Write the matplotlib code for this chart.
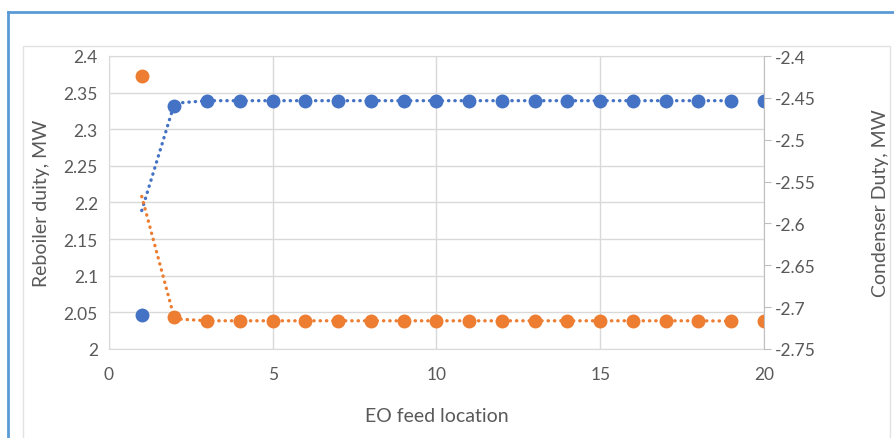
import matplotlib.pyplot as plt
from matplotlib.lines import Line2D
from matplotlib.patches import Rectangle

plt.rcParams['font.family'] = ['Lato', 'DejaVu Sans']

# EO feed stage vs. reboiler / condenser duty
feed_location = [1, 2, 3, 4, 5, 6, 7, 8, 9, 10, 11, 12, 13, 14, 15, 16, 17, 18, 19, 20]
reboiler_duty = [2.046, 2.332, 2.339, 2.339, 2.339, 2.339, 2.339, 2.339, 2.339, 2.339,
                 2.339, 2.339, 2.339, 2.339, 2.339, 2.339, 2.339, 2.339, 2.339, 2.339]
condenser_duty = [-2.424, -2.7115, -2.7163, -2.7163, -2.7163, -2.7163, -2.7163, -2.7163,
                  -2.7163, -2.7163, -2.7163, -2.7163, -2.7163, -2.7163, -2.7163, -2.7163,
                  -2.7163, -2.7163, -2.7163, -2.717]

left_ticks = [2, 2.05, 2.1, 2.15, 2.2, 2.25, 2.3, 2.35, 2.4]
right_ticks = [-2.75, -2.7, -2.65, -2.6, -2.55, -2.5, -2.45, -2.4]
x_ticks = [0, 5, 10, 15, 20]

blue = '#4472C4'
orange = '#ED7D31'
text_grey = '#595959'
grid_grey = '#D9D9D9'


def moving_avg(vals):
    # two-point moving average, as the dotted trend line
    return [(a + b) / 2 for a, b in zip(vals[:-1], vals[1:])]


fig = plt.figure(figsize=(8.95, 4.39), dpi=100)

# outer frame and chart-area border
fig.add_artist(Line2D([8 / 895, 8 / 895], [0, 1 - 13 / 439], color='#5B9BD5', lw=2,
                      transform=fig.transFigure))
fig.add_artist(Line2D([8 / 895, 1], [1 - 13 / 439, 1 - 13 / 439], color='#5B9BD5', lw=2,
                      transform=fig.transFigure))
fig.add_artist(Rectangle((23 / 895, -0.05), (890 - 23) / 895, 1.05 - 47 / 439,
                         fill=False, ec='#E3E3E3', lw=1, transform=fig.transFigure))

ax = fig.add_axes([109 / 895, 89 / 439, (764 - 109) / 895, (350 - 57) / 439])
ax2 = ax.twinx()

ax.set_xlim(0, 20)
ax.set_ylim(2, 2.4)
ax2.set_ylim(-2.75, -2.4)

ax.set_yticks(left_ticks)
ax.set_yticklabels([f'{t:g}' for t in left_ticks])
ax2.set_yticks(right_ticks)
ax2.set_yticklabels([f'{t:g}' for t in right_ticks])
ax.set_xticks(x_ticks)

ax.grid(True, color=grid_grey, lw=1)
ax.set_axisbelow(True)
for s in ['top', 'left', 'bottom']:
    ax.spines[s].set_color(grid_grey)
    ax2.spines[s].set_visible(False)
ax.spines['right'].set_visible(False)
ax2.spines['right'].set_color('#BFBFBF')

ax.tick_params(axis='both', length=0, labelsize=12.5, labelcolor=text_grey, pad=8)
ax.tick_params(axis='x', pad=12)
ax2.tick_params(axis='y', length=5, color='#BFBFBF', labelsize=12.5, labelcolor=text_grey, pad=3)

dots = dict(linestyle=(0, (0.1, 1.8)), lw=2.4, dash_capstyle='round')
ax.plot(feed_location[:-1], moving_avg(reboiler_duty), color=blue, **dots)
ax2.plot(feed_location[:-1], moving_avg(condenser_duty), color=orange, **dots)
ax.plot(feed_location, reboiler_duty, 'o', color=blue, ms=9, mec=blue)
ax2.plot(feed_location, condenser_duty, 'o', color=orange, ms=9, mec=orange)

ax.set_xlabel('EO feed location', fontsize=14, color=text_grey, labelpad=18)
ax.set_ylabel('Reboiler duity, MW', fontsize=14, color=text_grey, labelpad=10)
ax2.set_ylabel('Condenser Duty, MW', fontsize=14, color=text_grey, labelpad=40)

fig.savefig('out.png', dpi=100)
